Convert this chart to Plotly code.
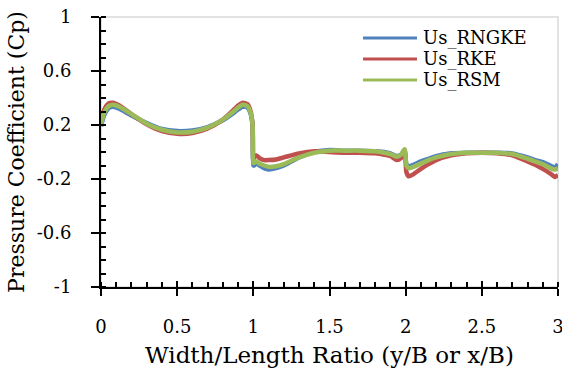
import plotly.graph_objects as go

ratio = [0, 0.02, 0.05, 0.08, 0.12, 0.2, 0.3, 0.4, 0.5, 0.6, 0.7, 0.8, 0.86, 0.9, 0.93, 0.96, 0.98, 0.995,
         1.0, 1.005, 1.02, 1.04, 1.07, 1.1, 1.15, 1.2, 1.3, 1.4, 1.5, 1.6, 1.7, 1.8, 1.86, 1.9, 1.94, 1.97,
         1.985, 1.995, 2.0, 2.005, 2.02, 2.05, 2.1, 2.15, 2.2, 2.3, 2.4, 2.5, 2.6, 2.7, 2.8, 2.85, 2.9,
         2.95, 2.98, 3.0]

cp_rngke = [0.19, 0.27, 0.325, 0.335, 0.32, 0.27, 0.215, 0.17, 0.155, 0.16, 0.185, 0.235, 0.28, 0.315,
            0.335, 0.33, 0.29, 0.2, -0.10, -0.10, -0.085, -0.10, -0.12, -0.13, -0.12, -0.10, -0.04, 0.0,
            0.015, 0.01, 0.01, 0.005, 0.0, -0.01, -0.03, -0.02, 0.0, 0.01, -0.05, -0.09, -0.105, -0.095,
            -0.07, -0.05, -0.03, -0.01, -0.005, -0.005, -0.005, -0.01, -0.04, -0.06, -0.075, -0.1, -0.115,
            -0.09]

cp_rke = [0.21, 0.31, 0.36, 0.365, 0.345, 0.28, 0.205, 0.155, 0.135, 0.14, 0.175, 0.24, 0.30, 0.345,
          0.365, 0.355, 0.31, 0.2, -0.06, -0.04, -0.025, -0.045, -0.06, -0.06, -0.055, -0.04, -0.01, 0.005,
          0.0, -0.005, -0.005, -0.01, -0.02, -0.03, -0.06, -0.045, -0.02, -0.01, -0.08, -0.15, -0.18,
          -0.165, -0.125, -0.09, -0.06, -0.025, -0.01, -0.005, -0.01, -0.025, -0.07, -0.095, -0.125,
          -0.16, -0.185, -0.17]

cp_rsm = [0.20, 0.29, 0.34, 0.35, 0.335, 0.28, 0.21, 0.165, 0.145, 0.15, 0.18, 0.24, 0.29, 0.33, 0.35,
          0.34, 0.30, 0.20, -0.08, -0.08, -0.07, -0.085, -0.10, -0.11, -0.105, -0.09, -0.04, -0.005, 0.01,
          0.01, 0.01, 0.005, -0.005, -0.015, -0.035, -0.02, 0.01, 0.02, -0.05, -0.10, -0.12, -0.11,
          -0.085, -0.06, -0.04, -0.015, -0.005, -0.005, -0.005, -0.015, -0.05, -0.07, -0.09, -0.12,
          -0.13, -0.12]

series_names = ["Us_RNGKE", "Us_RKE", "Us_RSM"]
series_values = [cp_rngke, cp_rke, cp_rsm]
series_colors = ["#4F81BD", "#C0504D", "#9BBB59"]

y_ticks = [1, 0.6, 0.2, -0.2, -0.6, -1]
y_ticklabels = ["1", "0.6", "0.2", "-0.2", "-0.6", "-1"]
x_ticks = [0, 0.5, 1, 1.5, 2, 2.5, 3]
x_ticklabels = ["0", "0.5", "1", "1.5", "2", "2.5", "3"]

FONT = "DejaVu Serif"

fig = go.Figure()
for name, vals, col in zip(series_names, series_values, series_colors):
    fig.add_trace(go.Scatter(x=ratio, y=vals, mode="lines", name=name, showlegend=False,
                             line=dict(color=col, width=4.5, shape="spline", smoothing=0.6)))

# custom legend (long sample lines, tight rows like the original)
shapes = [dict(type="rect", xref="paper", yref="paper", x0=0, y0=0, x1=1, y1=1,
               line=dict(color="#D9D9D9", width=1.5), layer="below")]
annotations = []
leg_x0, leg_x1, leg_tx = 363, 417, 421   # px
leg_y0, leg_dy = 38, 21                  # px
W, H, L, T = 562, 368, 101, 17
PW, PH = W - L - 4, H - T - 81
for i, (name, col) in enumerate(zip(series_names, series_colors)):
    ypx = leg_y0 + i * leg_dy
    yp = 1 - (ypx - T) / PH
    shapes.append(dict(type="line", xref="paper", yref="paper",
                       x0=(leg_x0 - L) / PW, x1=(leg_x1 - L) / PW, y0=yp, y1=yp,
                       line=dict(color=col, width=3)))
    annotations.append(dict(text=name, xref="paper", yref="paper", x=(leg_tx - L) / PW, y=yp,
                            xanchor="left", yanchor="middle", showarrow=False,
                            font=dict(family=FONT, size=18, color="black")))

fig.update_layout(
    width=W, height=H,
    margin=dict(l=L, r=4, t=T, b=81, autoexpand=False),
    paper_bgcolor="white", plot_bgcolor="white",
    font=dict(family=FONT, color="black"),
    showlegend=False,
    xaxis=dict(range=[0, 3], tickvals=x_ticks, ticktext=x_ticklabels,
               ticks="outside", ticklen=7, tickwidth=2, tickcolor="black",
               minor=dict(ticks="inside", dtick=0.1, tick0=0, ticklen=5, tickwidth=2, tickcolor="black"),
               showline=True, linecolor="black", linewidth=2, showgrid=False, zeroline=False,
               tickfont=dict(family=FONT, size=18), ticklabelstandoff=15, ticklabeloverflow="allow",
               title=dict(text="Width/Length Ratio (y/B or x/B)", font=dict(family=FONT, size=23), standoff=14),
               automargin=False),
    yaxis=dict(range=[-1, 1], tickvals=y_ticks, ticktext=y_ticklabels,
               ticks="outside", ticklen=8, tickwidth=2, tickcolor="black",
               minor=dict(ticks="inside", dtick=0.1, tick0=0, ticklen=5, tickwidth=2, tickcolor="black"),
               showline=True, linecolor="black", linewidth=2, showgrid=False, zeroline=False,
               tickfont=dict(family=FONT, size=18), ticklabelstandoff=16,
               title=dict(text="Pressure Coefficient (Cp)", font=dict(family=FONT, size=22), standoff=6),
               automargin=False),
    xaxis2=dict(overlaying="x", matches="x", anchor="y", side="bottom", range=[0, 3],
                tickvals=x_ticks, ticks="inside", ticklen=6, tickwidth=2, tickcolor="black",
                showticklabels=False, showline=False, showgrid=False, zeroline=False),
    yaxis2=dict(overlaying="y", matches="y", anchor="x", side="left", range=[-1, 1],
                tickvals=y_ticks, ticks="inside", ticklen=4, tickwidth=2, tickcolor="black",
                showticklabels=False, showline=False, showgrid=False, zeroline=False),
    shapes=shapes,
    annotations=annotations,
)
# invisible helper trace so the overlay axes get drawn
fig.add_trace(go.Scatter(x=[0], y=[0], xaxis="x2", yaxis="y2", mode="markers",
                         marker=dict(opacity=0), showlegend=False, hoverinfo="skip"))

fig.write_html("out.html")
